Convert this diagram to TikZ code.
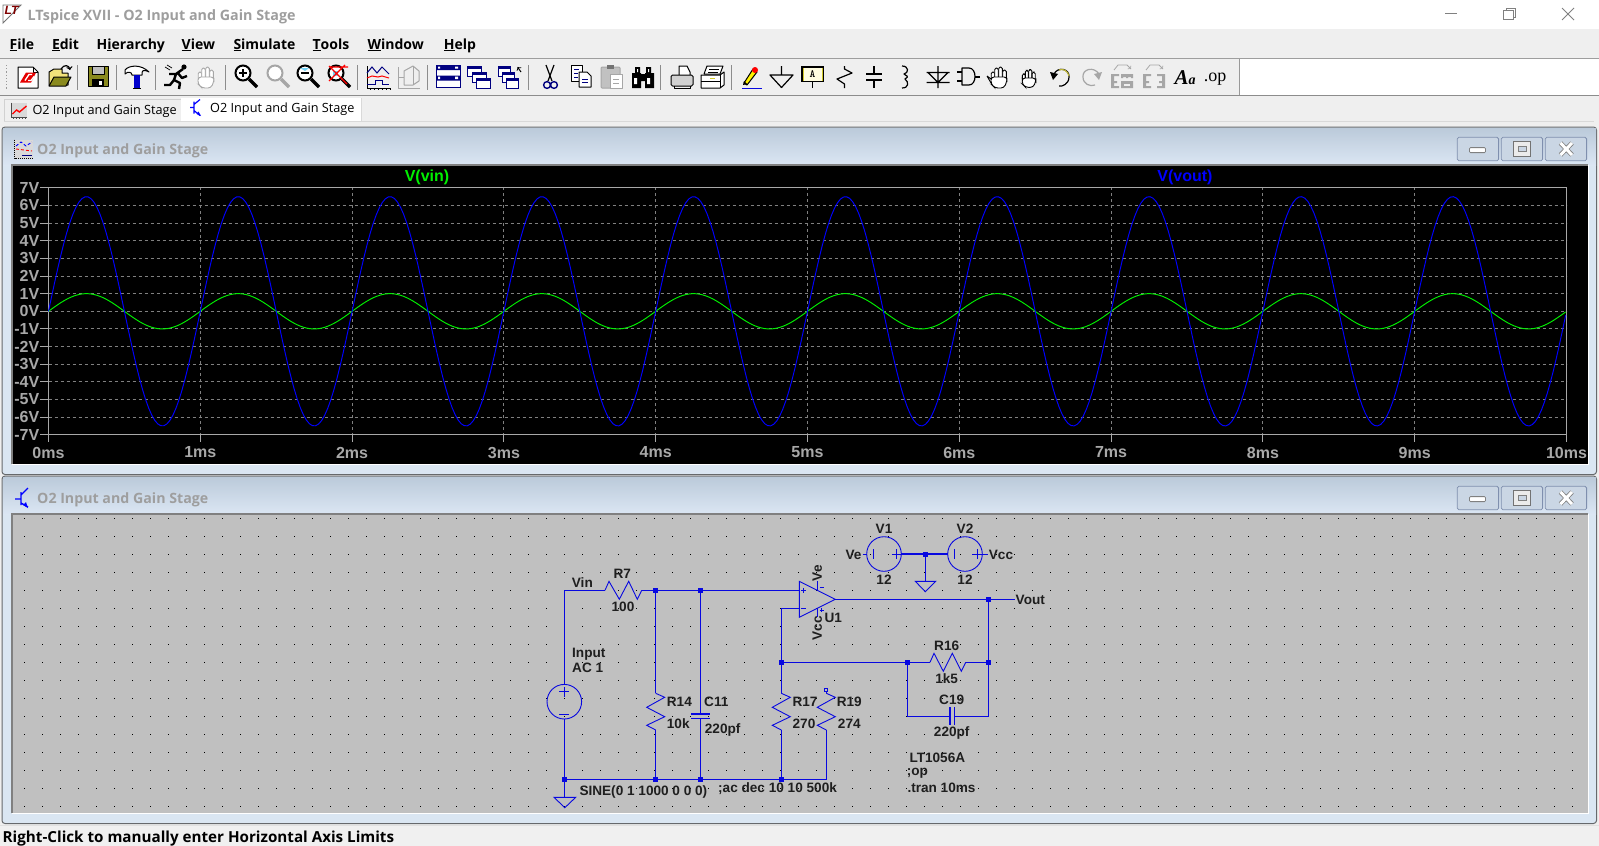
\documentclass[tikz,border=0pt]{standalone}
\usepackage{fontspec}
\setmainfont{Liberation Sans}
\newfontfamily\uifont{Open Sans}
\usetikzlibrary{positioning}
\definecolor{chrome}{HTML}{EFEFEF}
\definecolor{titletop}{HTML}{BBCADA}
\definecolor{titlebot}{HTML}{DBE6F3}
\definecolor{winpale}{HTML}{DAE6F2}
\definecolor{winframe}{HTML}{66696C}
\definecolor{paneframe}{HTML}{808080}
\definecolor{schembg}{HTML}{C0C0C0}
\definecolor{axisgray}{HTML}{A8A8A8}
\definecolor{gridgray}{HTML}{808080}
\definecolor{wireblue}{HTML}{0808E0}
\definecolor{tracegreen}{HTML}{00F000}
\definecolor{icongray}{HTML}{A6A6A6}
\definecolor{folderyel}{HTML}{F2E27A}
\definecolor{folderolive}{HTML}{8A8A1E}
\definecolor{navyicon}{HTML}{000080}
\definecolor{btnface}{HTML}{CAD6E4}
\definecolor{btnedge}{HTML}{7F8FAE}
\tikzset{
  uitext/.style={font=\uifont\fontsize{12.7}{15}\selectfont,text=black,inner sep=0pt},
  menutext/.style={font=\uifont\bfseries\fontsize{14}{16}\selectfont,text=black,inner sep=0pt,anchor=base west},
  grayttl/.style={font=\uifont\bfseries\fontsize{14.2}{16}\selectfont,text=black!38,inner sep=0pt,anchor=west},
  axislab/.style={font=\bfseries\fontsize{16}{18}\selectfont,text=axisgray,inner sep=0pt},
  schemtext/.style={font=\bfseries\fontsize{13.6}{15}\selectfont,text=black!88,inner sep=0pt},
  wire/.style={draw=wireblue,line width=1.15pt},
  symb/.style={draw=wireblue,line width=0.9pt},
  junc/.style={fill=wireblue,minimum size=5pt,inner sep=0pt},
  sep/.style={draw=black!45,line width=0.8pt},
  gline/.style={draw=black,line width=1pt,line join=round},
  dimline/.style={draw=icongray,line width=1pt,line join=round}
}
\newcommand{\magglass}[2]{%
  \draw[#1,line width=2pt,fill=#2] (-3,-3) circle (7.5);
  \draw[#1,line width=3.2pt] (3,3) -- (11,11);
}
\newcommand{\handicon}[2]{%
  \foreach \fx/\ft in {-6/-5,-2.5/-9,1.5/-10,5.5/-7}
    \draw[#1,line width=0.9pt,fill=white,rounded corners=1.6] (\fx-1.8,3) rectangle (\fx+1.8,\ft);
  \draw[#1,line width=0.9pt,fill=white,rounded corners=3] (-8,0) -- (-8,7) -- (-4,11) -- (5,11) -- (8,4) -- (8,0) -- cycle;
  \ifnum#2=1 \draw[#1,line width=0.9pt] (-8,2) -- (-12,-1) (-12,-1) -- (-8,6); \fi
}
\begin{document}
\begin{tikzpicture}[x=1pt,y=-1pt]
\useasboundingbox (0,0) rectangle (1599,846);

\fill[chrome] (0,0) rectangle (1599,846);
\fill[white] (0,0) rectangle (1599,29);
\draw[draw=black!38,line width=1pt] (0,58.7) -- (1599,58.7);
\fill[white] (1239,59) rectangle (1599,95);
\draw[draw=black!45,line width=1.4pt] (0,95.7) -- (1599,95.7);
\draw[draw=black!40,line width=0.8pt] (1239,59) -- (1239,95);
\draw[draw=black!40,line width=1.2pt,dotted] (6.5,65) -- (6.5,90);

\draw[draw=black!55,line width=0.9pt] (3,5) -- (21,5) -- (3,23) -- cycle;
\node[font=\bfseries\itshape\fontsize{12}{12}\selectfont,text=red!50!black,inner sep=0pt] (ltlogo) at (11.5,10.5) {LT};
\node[font=\uifont\bfseries\fontsize{14.3}{16}\selectfont,text=black!38,inner sep=0pt,anchor=west] (apptitle) at (27.5,16.8) {LTspice XVII - O2 Input and Gain Stage};
\draw[draw=black!50,line width=1pt] (1445,13.5) -- (1457,13.5);
\draw[draw=black!50,line width=0.9pt] (1506.7,10.7) -- (1506.7,8.3) -- (1515,8.3) -- (1515,17) -- (1513.3,17);
\draw[draw=black!50,line width=0.9pt] (1503.3,10.8) rectangle (1513.3,19.5);
\draw[draw=black!50,line width=0.9pt] (1562,8) -- (1574,20) (1574,8) -- (1562,20);

\foreach \pos/\txt in {9.5/\underline{F}ile,51.8/\underline{E}dit,96.5/H\underline{i}erarchy,181.5/\underline{V}iew,233.3/\underline{S}imulate,312.4/\underline{T}ools,367.3/\underline{W}indow,443.6/\underline{H}elp}
\node[menutext] (menu\pos) at (\pos,49) {\txt};

\foreach \pos in {77.5,116.6,155,225,357,427,528,660,731}
\draw[sep] (\pos,65) -- (\pos,90);

\begin{scope}[shift={(28,77.5)}]
\draw[gline,fill=white] (-10,-10.5) -- (5,-10.5) -- (10,-5.5) -- (10,10.5) -- (-10,10.5) -- cycle;
\draw[gline] (5,-10.5) -- (5,-5.5) -- (10,-5.5);
\fill[red!90!black] (-8,5) -- (-2,-5) -- (8,-5) -- (3,5) -- cycle;
\draw[white,line width=1.3pt] (-3,3) -- (1,-3) -- (4,-3) (0,3) -- (3,3) -- (6,-1);
\end{scope}
\begin{scope}[shift={(60,77)}]
\draw[gline,fill=folderyel] (-11,8) -- (-11,-5) -- (-6,-8) -- (2,-8) -- (2,-4) -- (8,-4) -- (8,8) -- cycle;
\draw[gline,fill=folderolive] (-11,9) -- (-6,0) -- (11,0) -- (6,9) -- cycle;
\draw[gline,line width=1.2pt,->] (1,-8) .. controls (4,-13) and (9,-12) .. (10,-7);
\end{scope}
\begin{scope}[shift={(98,76)}]
\draw[gline,fill=folderolive] (-10,-10) rectangle (10,10);
\fill[chrome!80!black] (-6,-10) rectangle (6,-2);
\draw[gline] (-6,-10) rectangle (6,-2);
\fill[black] (-6,3) rectangle (6,10);
\fill[white] (1,5) rectangle (4,9);
\end{scope}
\begin{scope}[shift={(137,77)}]
\draw[gline,fill=white] (-12,-7) .. controls (-8,-12) and (4,-13) .. (12,-5) .. controls (6,-8) and (5,-7) .. (5,-2) -- (-5,-2) .. controls (-5,-5) and (-9,-6) .. (-12,-3) -- cycle;
\fill[blue!80!black] (-3,-2) rectangle (3,11);
\draw[gline] (-4,11) -- (4,11);
\end{scope}
\begin{scope}[shift={(176,77)}]
\draw[draw=black,line width=2.4pt,line join=round] (7,-8) -- (0,-3) -- (-2,3) -- (4,6) -- (3,12) (-2,3) -- (-6,8) -- (-12,8) (0,-3) -- (-7,-3) (1,-5) -- (6,1) -- (11,-1);
\fill[black] (8,-10) circle (2.6);
\draw[draw=black,line width=0.7pt] (-11,-10) -- (-6,-7) (-9,-12) -- (-4,-9);
\end{scope}
\begin{scope}[shift={(206,77)}]
\handicon{icongray}{0}
\end{scope}
\begin{scope}[shift={(246,76)}]
\magglass{black}{white}
\draw[black,line width=2pt] (-7,-3) -- (1,-3) (-3,-7) -- (-3,1);
\end{scope}
\begin{scope}[shift={(278,76)}]
\magglass{icongray}{white}
\end{scope}
\begin{scope}[shift={(308,76)}]
\magglass{black}{white}
\fill[cyan!55] (-8,-8) -- (1,-8) -- (-3,-5) -- cycle;
\draw[black,line width=2pt] (-7,-3) -- (1,-3);
\end{scope}
\begin{scope}[shift={(339,76)}]
\magglass{black}{white}
\fill[cyan!55] (-6,-5) rectangle (-1,0);
\draw[red,line width=1.4pt] (-10,-10) -- (8,8) (6,-11) -- (-10,5) (-9,-9) -- (9,-9);
\end{scope}
\begin{scope}[shift={(378,77)}]
\draw[draw=black,line width=1pt] (-11,-11) -- (-11,11) -- (12,11);
\foreach \tk in {-8,-4,0,4,8,12} \draw[draw=black,line width=1pt] (\tk,11) -- (\tk,13);
\draw[draw=navyicon,line width=1pt] (-11,-4) -- (-6,-10) -- (-1,-4) -- (4,-10) -- (11,-3);
\draw[draw=red,line width=1pt] (-11,1) -- (-6,-1) -- (0,0) -- (4,-1) -- (11,1);
\draw[draw=navyicon,line width=1pt] (-11,7) -- (-3,7) -- (-3,3) -- (4,3) -- (4,7) -- (11,7);
\end{scope}
\begin{scope}[shift={(409,77)}]
\draw[dimline] (-11,-10) -- (-11,11) -- (11,11);
\draw[dimline] (-5,8) -- (-5,-6) -- (4,-11) -- (10,-6) -- (10,4) -- (4,8) -- cycle;
\draw[dimline] (-11,0) -- (-5,0) (4,-11) -- (4,8);
\end{scope}
\begin{scope}[shift={(448,76.5)}]
\draw[draw=navyicon,line width=1pt,fill=white] (-12,-11) rectangle (12,11);
\fill[navyicon] (-12,-11) rectangle (12,-6.5) (-12,-1) rectangle (12,4);
\fill[white] (7,-10) rectangle (10,-8) (-10,-10) rectangle (-8,-8) (7,0) rectangle (10,2.5) (-10,0) rectangle (-8,2.5);
\end{scope}
\begin{scope}[shift={(479,77)}]
\foreach \sx/\sy in {-11.7/-11,-7/-5,-2.3/1} {
\draw[draw=navyicon,line width=1pt,fill=white] (\sx,\sy) rectangle +(14,10);
\fill[navyicon] (\sx,\sy) rectangle +(14,3);
}
\end{scope}
\begin{scope}[shift={(509,77)}]
\foreach \sx/\sy in {-11/-11,-6.7/-5,-2.3/1} {
\draw[draw=navyicon,line width=1pt,fill=white] (\sx,\sy) rectangle +(12,10);
\fill[navyicon] (\sx,\sy) rectangle +(12,3);
}
\end{scope}
\draw[draw=black,line width=1pt,->] (521,72) -- (517.5,67);
\begin{scope}[shift={(550,77)}]
\draw[draw=black,line width=1.2pt] (-4,-12) -- (2,4) (4,-12) -- (-2,4);
\draw[draw=navyicon,line width=1.4pt] (-3,8) circle (3.4) (4,8) circle (3.4);
\end{scope}
\begin{scope}[shift={(581,76)}]
\draw[gline,fill=white] (-10,-11) rectangle (1,5);
\draw[gline,fill=white] (-2,-4) -- (6,-4) -- (10,0) -- (10,11) -- (-2,11) -- cycle;
\draw[draw=navyicon,line width=0.8pt] (-7,-7) -- (-2,-7) (-7,-3) -- (-3,-3) (-7,1) -- (-3,1) (1,3) -- (7,3) (1,6) -- (7,6);
\end{scope}
\begin{scope}[shift={(611,77)}]
\draw[draw=icongray,line width=1pt,fill=icongray!70,rounded corners=1] (-10,-10) rectangle (9,11);
\fill[black!55] (-4,-12) rectangle (3,-8);
\draw[dimline,fill=white] (-1,-3) rectangle (11,11);
\draw[dimline] (2,2) -- (8,2) (2,6) -- (8,6);
\end{scope}
\begin{scope}[shift={(643,77)}]
\fill[black] (-11,-4) rectangle (-2,11) (2,-4) rectangle (11,11) (-8,-10) rectangle (-3,-3) (3,-10) rectangle (8,-3) (-2,-3) rectangle (2,4);
\fill[white] (-9,1) rectangle (-6,7) (4,1) rectangle (7,7) (-6,-8) rectangle (-5,-5) (5,-8) rectangle (6,-5);
\end{scope}
\begin{scope}[shift={(682,77)}]
\draw[gline,fill=white] (-3,-11) -- (5,-11) -- (8,-5) -- (8,0) -- (-3,0) -- cycle;
\draw[gline,fill=black!18,rounded corners=1.5] (-11,-2) -- (11,-2) -- (11,9) -- (-11,9) -- cycle;
\draw[gline] (-8,9) -- (-8,11) -- (8,11) -- (8,9);
\end{scope}
\begin{scope}[shift={(712,77)}]
\draw[gline,fill=white] (-5,-11) -- (11,-11) -- (8,-3) -- (-8,-3) -- cycle;
\draw[gline] (-3,-8) -- (7,-8) (-4,-5) -- (6,-5);
\draw[gline,fill=white] (-11,-2) -- (8,-2) -- (12,-5) -- (12,8) -- (8,11) -- (-11,11) -- cycle;
\draw[gline] (8,-2) -- (8,11) (-11,4) -- (8,4);
\fill[yellow!80!black] (-2,1) rectangle (3,2);
\end{scope}
\begin{scope}[shift={(752,77)}]
\draw[draw=wireblue,line width=1pt] (-10,11) -- (10,11);
\draw[gline,fill=yellow] (-8,6) -- (1,-8) -- (5,-5) -- (-5,8) -- cycle;
\fill[red] (3,-7) circle (3);
\fill[black] (-9,8) -- (-8,4) -- (-5,7) -- cycle;
\end{scope}
\begin{scope}[shift={(781.5,77)}]
\draw[gline,line width=1.2pt] (0,-11) -- (0,-2) (-11.5,-2) -- (11.5,-2) -- (0,10.5) -- cycle;
\end{scope}
\begin{scope}[shift={(812.5,77)}]
\draw[draw=black,line width=1.3pt,fill=yellow!12] (-10.5,-10) rectangle (10.5,4.7);
\draw[draw=yellow!80!black,line width=1pt] (-9.5,-9) -- (-9.5,4) (9.5,-9) -- (9.5,4);
\node[font=\ttfamily\bfseries\fontsize{11}{11}\selectfont,inner sep=0pt] (iconA) at (0,-2.7) {A};
\draw[gline,line width=1.2pt] (0,4.7) -- (0,11);
\end{scope}
\begin{scope}[shift={(844,77)}]
\draw[gline,line width=1.2pt] (0.5,-11) -- (0.5,-8) -- (8,-4) -- (-7,2) -- (0.5,7) -- (0.5,11);
\end{scope}
\begin{scope}[shift={(874,77)}]
\draw[gline,line width=1.2pt] (0,-11) -- (0,-3) (0,3) -- (0,11);
\draw[draw=black,line width=1.8pt] (-8,-3) -- (8,-3) (-8,3) -- (8,3);
\end{scope}
\begin{scope}[shift={(905,77)}]
\draw[gline,line width=1.2pt] (-3,-11) .. controls (4,-11) and (4,-4) .. (-1,-3) .. controls (1,-1) and (5,-1) .. (0,2) .. controls (4,5) and (4,11) .. (-3,11);
\end{scope}
\begin{scope}[shift={(938,77)}]
\draw[gline,line width=1.2pt] (0,-11) -- (0,11) (-11.5,-4.5) -- (11.5,-4.5) (-10,-4.5) -- (0,5.5) -- (10,-4.5) (-11.5,5.5) -- (11.5,5.5);
\end{scope}
\begin{scope}[shift={(968,77)}]
\draw[gline,line width=1.2pt] (-6,-9) -- (1,-9) .. controls (9,-9) and (9,8) .. (1,8) -- (-6,8) -- cycle;
\draw[gline,line width=1.2pt] (-11,-5) -- (-6,-5) (-11,4) -- (-6,4) (7,0) -- (12,0);
\end{scope}
\begin{scope}[shift={(999,77)}]
\handicon{black}{1}
\end{scope}
\begin{scope}[shift={(1029,78)},scale=0.85]
\handicon{black}{0}
\end{scope}
\begin{scope}[shift={(1061,77)}]
\draw[draw=black,line width=1.2pt] (-7,-3) .. controls (-3,-11) and (9,-8) .. (8,0) .. controls (8,7) and (1,10) .. (-2,9);
\draw[draw=yellow!70!black,line width=1.2pt] (-2,-7) .. controls (2,-9) and (7,-6) .. (8,-1);
\fill[black] (-11,-5) -- (-3,-3) -- (-8,3) -- cycle;
\end{scope}
\begin{scope}[shift={(1091,77)}]
\draw[draw=icongray,line width=1.2pt] (8,-3) .. controls (3,-11) and (-9,-8) .. (-8,0) .. controls (-8,7) and (-1,10) .. (4,8);
\fill[icongray] (11,-5) -- (3,-3) -- (8,3) -- cycle;
\end{scope}
\begin{scope}[shift={(1122,77)}]
\draw[draw=icongray,line width=0.8pt,->] (-8,-7) -- (-4,-12) -- (5,-12) -- (9,-8);
\fill[icongray] (-11,-3) rectangle (-3,-1) (-11,-3) rectangle (-8,11) (-11,4) rectangle (-5,6) (-11,9) rectangle (-3,11);
\fill[icongray] (-1,-3) rectangle (11,-0) (-1,-3) rectangle (1,1) (4,-3) rectangle (6,1) (9,-3) rectangle (11,1) (-1,4) rectangle (11,11);
\fill[chrome] (2,7) rectangle (8,9);
\end{scope}
\begin{scope}[shift={(1154,77)}]
\draw[draw=icongray,line width=0.8pt,->] (-8,-7) -- (-4,-12) -- (5,-12) -- (9,-8);
\fill[icongray] (-11,-3) rectangle (-3,-1) (-11,-3) rectangle (-8,11) (-11,4) rectangle (-5,6) (-11,9) rectangle (-3,11);
\fill[icongray] (3,-3) rectangle (11,-1) (8,-3) rectangle (11,11) (5,4) rectangle (11,6) (3,9) rectangle (11,11);
\end{scope}
\node[font=\fontspec{Liberation Serif}\bfseries\itshape\fontsize{21}{21}\selectfont,inner sep=0pt] (iconaa) at (1185,78) {A\fontsize{14}{14}\selectfont a};
\node[font=\fontspec{Liberation Serif}\fontsize{18}{18}\selectfont,inner sep=0pt,anchor=base] (iconop) at (1215,81) {.op};

\fill[chrome] (4,99.5) rectangle (181,120.7);
\draw[draw=black!18,line width=0.8pt] (4,120.7) -- (4,99.5) -- (181,99.5);
\fill[white] (181,98) rectangle (361,121);
\draw[draw=black!15,line width=0.8pt] (361,98) -- (361,121);
\draw[draw=black!15,line width=0.8pt] (4,121.3) -- (1594,121.3);
\node[uitext,anchor=west] (tabplot) at (32.3,111.3) {O2 Input and Gain Stage};
\node[uitext,anchor=west] (tabschem) at (210,109) {O2 Input and Gain Stage};
\begin{scope}[shift={(18.5,110)}]
\fill[black!15] (-8,-7) rectangle (8,7);
\draw[draw=black!70,line width=1pt] (-7.5,-7.5) -- (-7.5,7) -- (8.5,7);
\foreach \tk in {-5,-2,1,4,7} \draw[draw=black!70,line width=1pt] (\tk,7) -- (\tk,8.5);
\draw[draw=red,line width=1.4pt] (-6,4) -- (-2,0) -- (1,2) -- (8,-4);
\end{scope}
\begin{scope}[shift={(196,107.5)}]
\draw[draw=blue,line width=1.2pt] (-6,0) -- (-2,0) (-2,-6) -- (-2,6) (-2,-3) -- (4,-8) (-2,3) -- (4,8);
\fill[blue] (5,8.5) -- (0.5,6.5) -- (2.5,4) -- cycle;
\end{scope}

\draw[draw=winframe,fill=winpale,line width=1pt,rounded corners=3] (2,127) rectangle (1596.5,474.5);
\shade[top color=titletop,bottom color=titlebot] (3,128) rectangle (1596,165);
\draw[draw=winframe,fill=winpale,line width=1pt,rounded corners=3] (2,476) rectangle (1596.5,823.5);
\shade[top color=titletop,bottom color=titlebot] (3,477) rectangle (1596,514);

\node[grayttl] (plottitle) at (37,151.3) {O2 Input and Gain Stage};
\node[grayttl] (schemtitle) at (37,500.3) {O2 Input and Gain Stage};
\fill[black!15] (13.5,139.5) rectangle (33,159);
\draw[draw=black,line width=1pt,densely dotted] (14.5,139.5) -- (14.5,158) -- (33,158);
\draw[draw=blue,line width=0.9pt,densely dashed] (16,146) -- (21,142) -- (26,146) -- (32,142);
\draw[draw=red,line width=0.9pt,densely dashed] (16,149) -- (32,151);
\draw[draw=navyicon,line width=0.9pt] (22,155) -- (32,155);
\draw[draw=blue,line width=1.4pt] (15,499) -- (21,499) (21,492) -- (21,505) (21,495) -- (28,488) (21,503) -- (28,507);
\fill[blue] (28,508) -- (23,505) -- (26,502) -- cycle;

\foreach \dy in {0,349} {
\foreach \bx in {1457.3,1501.3,1545.3}
\draw[draw=btnedge,fill=btnface,line width=0.8pt,rounded corners=1.5] (\bx,137.3+\dy) rectangle +(41.3,23.4);
\draw[draw=black!50,fill=white,line width=0.8pt,rounded corners=1] (1469.5,147.6+\dy) rectangle (1485.5,152.6+\dy);
\draw[draw=black!55,fill=black!8,line width=0.8pt] (1513.5,141.5+\dy) rectangle (1530,156+\dy);
\draw[draw=black!50,fill=btnface,line width=0.8pt] (1518,146+\dy) rectangle (1526,151+\dy);
\draw[draw=black!50,line width=4.6pt] (1560.5,143+\dy) -- (1572,155+\dy) (1572,143+\dy) -- (1560.5,155+\dy);
\draw[draw=white,line width=3pt] (1560.5,143+\dy) -- (1572,155+\dy) (1572,143+\dy) -- (1560.5,155+\dy);
}

\fill[black] (12,165) rectangle (1587.7,464);
\draw[draw=paneframe,line width=1.2pt] (12,464) -- (12,165) -- (1587.7,165);
\draw[draw=white,line width=1pt] (12,464.5) -- (1588,464.5) -- (1588,165);

\foreach \pos in {1,...,9}
\draw[draw=gridgray,line width=0.9pt,dash pattern=on 3pt off 3pt] ({48.5+151.8*\pos},187.3) -- ({48.5+151.8*\pos},434.3);
\foreach \pos in {-6,...,6}
\draw[draw=gridgray,line width=0.9pt,dash pattern=on 3pt off 3pt] (48.5,{311.3-17.64*\pos}) -- (1566.5,{311.3-17.64*\pos});
\draw[draw=axisgray,line width=1pt] (48.5,187.3) rectangle (1566.5,434.3);
\foreach \pos in {-7,...,7}
\draw[draw=axisgray,line width=1pt] (40,{311.3-17.64*\pos}) -- (48.5,{311.3-17.64*\pos});
\foreach \pos in {0,...,10}
\draw[draw=axisgray,line width=1pt] ({48.5+151.8*\pos},434.3) -- ({48.5+151.8*\pos},442);

\foreach \pos in {-7,...,7}
\node[axislab,anchor=east] (ytick\pos) at (39.5,{311.3-17.64*\pos}) {\pos V};
\foreach \pos in {0,...,10}
\node[axislab] (xtick\pos) at ({48.5+151.8*\pos},452.5) {\pos ms};

\node[font=\bfseries\fontsize{16}{18}\selectfont,text=tracegreen,inner sep=0pt] (vinlabel) at (427,177) {V(vin)};
\node[font=\bfseries\fontsize{16}{18}\selectfont,text=blue,inner sep=0pt] (voutlabel) at (1185,177) {V(vout)};

\draw[draw=tracegreen,line width=0.95pt] plot[domain=0:10,samples=501] ({48.5+151.8*\x},{311.3-17.64*sin(360*\x)});
\draw[draw=blue,line width=0.95pt] plot[domain=0:10,samples=501] ({48.5+151.8*\x},{311.3-6.5*17.64*sin(360*\x)});

\fill[schembg] (12,514) rectangle (1587.7,813.3);
\draw[draw=paneframe,line width=1.2pt] (12,813.3) -- (12,514) -- (1587.7,514);
\draw[draw=white,line width=1pt] (12,813.8) -- (1588,813.8) -- (1588,514);
\foreach \x in {24,42,...,1584}
\foreach \y in {518,536,...,806}
\fill[black] (\x,\y) rectangle +(1,1);

\fill[white!94!black] (0,826) rectangle (1599,846);
\draw[draw=black!12,line width=0.8pt] (0,825.5) -- (1599,825.5);
\node[font=\uifont\bfseries\fontsize{15.2}{18}\selectfont,text=black,inner sep=0pt,anchor=base west] (statusline) at (2.5,842.2) {Right-Click to manually enter Horizontal Axis Limits};

\coordinate (vinL) at (564.3,590.3);
\coordinate (r7a) at (605,590.3);
\coordinate (r7b) at (641.7,590.3);
\coordinate (inP) at (799.3,590.3);
\coordinate (srcT) at (564.3,684.4);
\coordinate (srcB) at (564.3,719);
\coordinate (gndA) at (564.3,797.3);
\coordinate (botR) at (826.3,779.3);
\coordinate (r19B) at (826.3,730);
\coordinate (r14T) at (655.7,693.3);
\coordinate (r14B) at (655.7,730);
\coordinate (c11T) at (700.3,714);
\coordinate (c11B) at (700.3,718.3);
\coordinate (r17T) at (781.3,693.3);
\coordinate (r17B) at (781.3,730);
\coordinate (inN) at (799.3,608.3);
\coordinate (fbT) at (781.3,608.3);
\coordinate (outT) at (835.3,599.3);
\coordinate (outE) at (1015,599.3);
\coordinate (r16a) at (930,662.3);
\coordinate (r16b) at (965.7,662.3);
\coordinate (c19L) at (907.3,716.3);
\coordinate (c19R) at (988.3,716.3);
\coordinate (c19a) at (950,716.3);
\coordinate (c19b) at (954.3,716.3);
\coordinate (v1P) at (901.3,554);
\coordinate (v2M) at (947.7,554);
\coordinate (gndB) at (925.3,581.3);

\node[junc] (j1) at (655.7,590.3) {};
\node[junc] (j2) at (700.3,590.3) {};
\node[junc] (j3) at (564.3,779.3) {};
\node[junc] (j4) at (655.7,779.3) {};
\node[junc] (j5) at (700.3,779.3) {};
\node[junc] (j6) at (781.3,779.3) {};
\node[junc] (j7) at (781.3,662.3) {};
\node[junc] (j8) at (907.3,662.3) {};
\node[junc] (j9) at (988.3,662.3) {};
\node[junc] (j10) at (988.3,599.3) {};
\node[junc] (j11) at (925.3,554) {};

\draw[wire] (srcT) -- (vinL) -- (r7a);
\draw[wire] (r7b) -- (inP);
\draw[wire] (srcB) -- (gndA);
\draw[wire] (j3.center) -- (botR) -- (r19B);
\draw[wire] (j1.center) -- (r14T);
\draw[wire] (r14B) -- (j4.center);
\draw[wire] (j2.center) -- (c11T);
\draw[wire] (c11B) -- (j5.center);
\draw[wire] (inN) -- (fbT) -- (r17T);
\draw[wire] (r17B) -- (j6.center);
\draw[wire] (outT) -- (outE);
\draw[wire] (j7.center) -- (r16a);
\draw[wire] (r16b) -- (j9.center);
\draw[wire] (j10.center) -- (c19R) -- (c19b);
\draw[wire] (j8.center) -- (c19L) -- (c19a);
\draw[wire] (v1P) -- (v2M);
\draw[wire] (j11.center) -- (gndB);

\draw[symb] (564.3,701.7) circle (17.3);
\draw[symb] (559.3,691.7) -- (569.3,691.7) (564.3,686.7) -- (564.3,696.7) (559.3,714.3) -- (569.3,714.3);
\draw[symb] (554,797.3) -- (575.7,797.3) -- (564.8,807.7) -- cycle;
\draw[symb] (r7a) -- (609,581.3) -- (619.3,599.3) -- (628.7,581.3) -- (637.3,599.3) -- (r7b);
\draw[symb] (r14T) -- (664.7,697.3) -- (646.7,707.3) -- (664.7,716.7) -- (646.7,725.3) -- (r14B);
\draw[symb] (r17T) -- (790.3,697.3) -- (772.3,707.3) -- (790.3,716.7) -- (772.3,725.3) -- (r17B);
\draw[symb] (826.3,693.3) -- (835.3,697.3) -- (817.3,707.3) -- (835.3,716.7) -- (817.3,725.3) -- (r19B);
\draw[symb] (826.3,693.3) -- (826.3,691) (824.8,688) rectangle (827.3,691);
\draw[symb,line width=1.1pt] (691,714) -- (710,714) (691,718.3) -- (710,718.3);
\draw[symb,line width=1.1pt] (950,707.3) -- (950,725.3) (954.3,707.3) -- (954.3,725.3);
\draw[symb] (r16a) -- (934,653.3) -- (943.3,671.3) -- (952.3,653.3) -- (961.3,671.3) -- (r16b);
\draw[symb] (799.3,581.3) -- (799.3,617.3) -- (outT) -- cycle;
\draw[symb] (817.3,590.3) -- (817.3,581.3) (817.3,608.3) -- (817.3,617.3);
\draw[symb] (800.8,590.3) -- (805.8,590.3) (803.3,587.8) -- (803.3,592.8) (800.8,608.3) -- (805.8,608.3);
\draw[symb] (819.5,587.3) -- (824,587.3) (819.5,610) -- (824,610) (821.7,607.7) -- (821.7,612.3);
\draw[symb] (884,554) circle (17.3) (965,554) circle (17.3);
\draw[symb] (862.7,554) -- (866.7,554);
\draw[symb] (873.3,549.3) -- (873.3,558.7) (896,549.3) -- (896,558.7) (891.7,554) -- (v1P);
\draw[symb] (954.3,549.3) -- (954.3,558.7) (977,549.3) -- (977,558.7) (972.3,554) -- (988,554);
\draw[symb] (915.3,581.3) -- (935.7,581.3) -- (925.3,591.7) -- cycle;

\node[schemtext,anchor=west] (vinnet) at (571.7,582.3) {Vin};
\node[schemtext] (r7name) at (622.3,574.3) {R7};
\node[schemtext] (r7val) at (623,606.7) {100};
\node[schemtext,anchor=west] (srcname) at (572,654.5) {Input};
\node[schemtext,anchor=west] (srcac) at (572,668) {AC 1};
\node[schemtext,anchor=west] (r14name) at (666.7,702.3) {R14};
\node[schemtext,anchor=west] (r14val) at (666.7,723.7) {10k};
\node[schemtext,anchor=west] (c11name) at (704,702.3) {C11};
\node[schemtext,anchor=west] (c11val) at (704.7,730) {220pf};
\node[schemtext] (r17name) at (805,702.3) {R17};
\node[schemtext] (r17val) at (804,723.7) {270};
\node[schemtext] (r19name) at (849.3,702.3) {R19};
\node[schemtext] (r19val) at (849.3,723.7) {274};
\node[schemtext,anchor=west] (sinesrc) at (579.3,791.7) {SINE(0 1 1000 0 0 0)};
\node[schemtext,anchor=west] (acdir) at (718,789) {;ac dec 10 10 500k};
\node[schemtext,rotate=90] (venet) at (817.3,573.3) {Ve};
\node[schemtext,rotate=90] (vccnet) at (817.3,628.3) {Vcc};
\node[schemtext] (u1name) at (833.3,617.8) {U1};
\node[schemtext,anchor=west] (voutnet) at (1015.5,600.3) {Vout};
\node[schemtext] (r16name) at (946.7,645.7) {R16};
\node[schemtext] (r16val) at (946.7,678.3) {1k5};
\node[schemtext] (c19name) at (951.7,699.7) {C19};
\node[schemtext] (c19val) at (951.7,732.7) {220pf};
\node[schemtext,anchor=east] (ve2net) at (861.7,555) {Ve};
\node[schemtext,anchor=west] (vcc2net) at (988.7,555) {Vcc};
\node[schemtext] (v1name) at (884,529) {V1};
\node[schemtext] (v1val) at (884,580) {12};
\node[schemtext] (v2name) at (965,529) {V2};
\node[schemtext] (v2val) at (965,580) {12};
\node[schemtext,anchor=west] (optype) at (909.3,757.7) {LT1056A};
\node[schemtext,anchor=west] (opdir) at (906.7,773) {;op};
\node[schemtext,anchor=west] (trandir) at (907.3,788.3) {.tran 10ms};

\end{tikzpicture}
\end{document}
